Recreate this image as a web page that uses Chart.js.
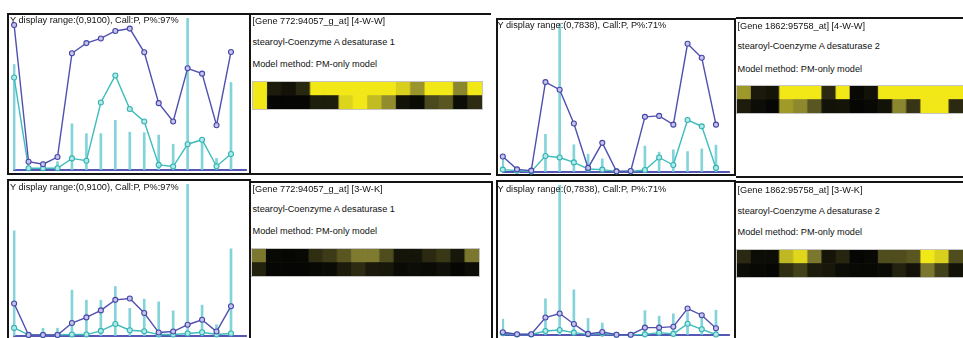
<!DOCTYPE html>
<html>
<head>
<meta charset="utf-8">
<script src="https://cdn.jsdelivr.net/npm/chart.js@4.4.0/dist/chart.umd.min.js"></script>
<style>
  body { margin: 0; background: #fff; width: 963px; height: 338px; overflow: hidden; position: relative; font-family: "Liberation Sans", Arial, sans-serif; }
  .box { position: absolute; border: 2px solid #141414; box-sizing: border-box; }
  .txt { position: absolute; font-size: 9.2px; line-height: 11px; color: #111; white-space: nowrap; z-index: 5; }
  canvas { position: absolute; }
  canvas.heat { border: 1px solid #c4c4c4; }
</style>
</head>
<body>
<script>
// ---- profile data: 16 arrays per gene ----
const scd1WW_dark = [8690, 490, 340, 770, 6990, 7600, 7880, 8330, 8470, 7050, 4000, 2900, 6090, 5770, 2680, 7070];
const scd1WW_teal = [5540, 100, 100, 100, 690, 550, 4040, 5660, 3650, 2900, 300, 200, 1540, 1810, 220, 950];
const scd1WW_bars = [6320, 0, 490, 490, 2760, 2170, 2170, 2970, 2260, 2230, 2090, 1540, 9100, 1830, 690, 5240];

const scd1WK_dark = [1945, 50, 50, 50, 770, 1110, 1530, 2160, 2240, 1370, 200, 260, 670, 970, 260, 1780];
const scd1WK_teal = [480, 60, 60, 60, 80, 80, 300, 710, 340, 280, 80, 80, 140, 220, 80, 140];
const scd1WK_bars = [6300, 0, 460, 460, 2740, 2140, 2140, 2960, 1650, 2200, 2040, 1500, 9100, 1840, 670, 5220];

const scd2WW_dark = [810, 135, 67, 4730, 4330, 2550, 210, 1530, 30, 50, 2900, 2950, 2490, 6750, 6010, 2490];
const scd2WW_teal = [120, 67, 16, 840, 760, 500, 155, 120, 30, 30, 100, 760, 360, 2730, 2400, 210];
const scd2WW_bars = [690, 0, 0, 1980, 7838, 1430, 930, 690, 0, 0, 1360, 1040, 1160, 1070, 1210, 1410];

const scd2WK_dark = [140, 36, 36, 910, 1120, 570, 52, 155, 10, 10, 380, 380, 430, 1380, 1030, 345];
const scd2WK_teal = [88, 20, 20, 206, 258, 119, 30, 67, 10, 10, 30, 119, 52, 583, 294, 20];
const scd2WK_bars = [825, 0, 0, 1890, 7838, 2360, 860, 620, 0, 0, 1270, 980, 1100, 1170, 960, 1290];

const yRange1 = 9100;
const yRange2 = 7838;

// ---- heatmap intensities (0 = black, 1 = yellow), top row / bottom row ----
const heatScd1WW_top = [1, 0.09, 0.05, 0.14, 1, 1, 1, 1, 1, 1, 0.88, 0.61, 1, 1, 0.55, 1];
const heatScd1WW_bot = [1, 0, 0, 0, 0.10, 0.10, 0.91, 1, 0.79, 0.58, 0.05, 0.02, 0.28, 0.34, 0.03, 0.16];
const heatScd2WW_top = [0.63, 0.08, 0.06, 1, 1, 1, 0.15, 1, 0.01, 0.05, 1, 1, 1, 1, 1, 1];
const heatScd2WW_bot = [0.09, 0.03, 0, 0.64, 0.56, 0.34, 0.05, 0.06, 0, 0.01, 0.05, 0.55, 0.20, 1, 1, 0.15];
const heatScd1WK_top = [0.48, 0.01, 0, 0.01, 0.17, 0.22, 0.34, 0.49, 0.49, 0.30, 0.06, 0.06, 0.15, 0.21, 0.07, 0.48];
const heatScd1WK_bot = [0.12, 0, 0, 0, 0.01, 0.02, 0.09, 0.16, 0.08, 0.07, 0.02, 0.03, 0.02, 0.04, 0, 0.03];
const heatScd2WK_top = [0.15, 0.03, 0.03, 0.78, 0.92, 0.48, 0.06, 0.13, 0, 0.01, 0.30, 0.30, 0.34, 1, 0.89, 0.30];
const heatScd2WK_bot = [0.03, 0.01, 0, 0.17, 0.25, 0.09, 0.07, 0.03, 0.01, 0.01, 0.02, 0.12, 0.05, 0.48, 0.25, 0.05];

// ---- layout ----
function addBox(l, t, w, h, extra) {
  const d = document.createElement('div');
  d.className = 'box';
  d.style.cssText = `left:${l}px;top:${t}px;width:${w}px;height:${h}px;${extra || ''}`;
  document.body.appendChild(d);
}
function addText(str, l, t) {
  const d = document.createElement('div');
  d.className = 'txt';
  d.style.left = l + 'px';
  d.style.top = t + 'px';
  d.textContent = str;
  document.body.appendChild(d);
}
function addCanvas(l, t, w, h, cls) {
  const c = document.createElement('canvas');
  c.width = w; c.height = h;
  c.style.cssText = `left:${l}px;top:${t}px;width:${w}px;height:${h}px;`;
  if (cls) c.className = cls;
  document.body.appendChild(c);
  return c;
}

addBox(7, 13, 244, 162);
addBox(251, 13, 240, 162, 'border-left:none;border-right:none;');
addBox(496, 18, 240, 158);
addBox(736, 17, 240, 161, 'border-left:none;');
addBox(7, 179, 244, 170);
addBox(251, 181, 242, 170, 'border-left:none;');
addBox(496, 180, 240, 170);
addBox(736, 181, 240, 170, 'border-left:none;');

const baseline = {
  id: 'baseline',
  beforeDatasetsDraw(chart) {
    const { ctx, chartArea } = chart;
    const y = chart.scales.y.getPixelForValue(0);
    ctx.save();
    ctx.strokeStyle = '#5656b4';
    ctx.lineWidth = 2;
    ctx.beginPath();
    ctx.moveTo(chartArea.left, y);
    ctx.lineTo(chartArea.right, y);
    ctx.stroke();
    ctx.restore();
  }
};

function profileChart(area, xmin, xmax, ymax, dark, teal, bars) {
  const pad = 4;
  const cv = addCanvas(area.l - pad, area.t - pad, area.r - area.l + 2 * pad, area.b - area.t + 2 * pad);
  const pts = arr => arr.map((v, i) => ({ x: i, y: v }));
  new Chart(cv.getContext('2d'), {
    type: 'line',
    data: {
      datasets: [
        { type: 'line', data: pts(dark), borderColor: '#5050b0', borderWidth: 1.4, tension: 0,
          pointRadius: 2.5, pointBorderWidth: 1.1, pointBorderColor: '#4646a6', pointBackgroundColor: '#c4c4ee', clip: false, order: 1 },
        { type: 'line', data: pts(teal), borderColor: '#3fbcbc', borderWidth: 1.4, tension: 0,
          pointRadius: 2.5, pointBorderWidth: 1.1, pointBorderColor: '#35b2b2', pointBackgroundColor: '#b2eaea', clip: false, order: 2 },
        { type: 'bar', data: pts(bars), backgroundColor: 'rgba(108,204,212,0.85)', barThickness: 2, order: 3 }
      ]
    },
    options: {
      responsive: false,
      animation: false,
      devicePixelRatio: 1,
      layout: { padding: pad },
      scales: {
        x: { type: 'linear', min: xmin, max: xmax, offset: false, display: false },
        y: { min: 0, max: ymax, display: false }
      },
      plugins: { legend: { display: false }, tooltip: { enabled: false } }
    },
    plugins: [baseline]
  });
}

// black -> olive -> yellow
function heatColor(t) {
  const a = [6, 6, 4], m = [128, 124, 48], b = [242, 232, 24];
  const lo = t < 0.5 ? a : m, hi = t < 0.5 ? m : b;
  const s = t < 0.5 ? t / 0.5 : (t - 0.5) / 0.5;
  const c = lo.map((v, k) => Math.round(v + (hi[k] - v) * s));
  return `rgb(${c[0]},${c[1]},${c[2]})`;
}

function heatmap(l, t, w, h, top, bot) {
  const cv = addCanvas(l, t, w, h, 'heat');
  const cols = top.map((_, i) => String(i + 1));
  new Chart(cv.getContext('2d'), {
    type: 'bar',
    data: {
      labels: cols,
      datasets: [
        { data: bot.map(() => 1), backgroundColor: bot.map(heatColor), borderWidth: 0, categoryPercentage: 1, barPercentage: 1 },
        { data: top.map(() => 1), backgroundColor: top.map(heatColor), borderWidth: 0, categoryPercentage: 1, barPercentage: 1 }
      ]
    },
    options: {
      responsive: false,
      animation: false,
      devicePixelRatio: 1,
      layout: { padding: 0 },
      scales: {
        x: { stacked: true, display: false },
        y: { stacked: true, min: 0, max: 2, display: false }
      },
      plugins: { legend: { display: false }, tooltip: { enabled: false } }
    }
  });
}

profileChart({ l: 12, r: 248, t: 17, b: 171 }, -0.07, 16.1, yRange1, scd1WW_dark, scd1WW_teal, scd1WW_bars);
profileChart({ l: 501, r: 731, t: 22, b: 173.3 }, -0.05, 15.98, yRange2, scd2WW_dark, scd2WW_teal, scd2WW_bars);
profileChart({ l: 12, r: 248, t: 183, b: 337 }, -0.07, 16.1, yRange1, scd1WK_dark, scd1WK_teal, scd1WK_bars);
profileChart({ l: 501, r: 731, t: 184, b: 336 }, -0.05, 15.98, yRange2, scd2WK_dark, scd2WK_teal, scd2WK_bars);

heatmap(252, 81, 231, 29, heatScd1WW_top, heatScd1WW_bot);
heatmap(736, 85, 228, 29, heatScd2WW_top, heatScd2WW_bot);
heatmap(251, 248, 229, 29, heatScd1WK_top, heatScd1WK_bot);
heatmap(736, 249, 228, 29, heatScd2WK_top, heatScd2WK_bot);

const title1 = 'Y display range:(0,9100), Call:P, P%:97%';
const title2 = 'Y display range:(0,7838), Call:P, P%:71%';
addText(title1, 10, 15.2);
addText(title2, 497.5, 19.5);
addText(title1, 10, 181.8);
addText(title2, 497.5, 183.8);

addText('[Gene 772:94057_g_at] [4-W-W]', 252.5, 16.2);
addText('stearoyl-Coenzyme A desaturase 1', 252.5, 36.8);
addText('Model method: PM-only model', 252.5, 58.8);

addText('[Gene 1862:95758_at] [4-W-W]', 737.5, 20.5);
addText('stearoyl-Coenzyme A desaturase 2', 737.5, 41.2);
addText('Model method: PM-only model', 737.5, 63.5);

addText('[Gene 772:94057_g_at] [3-W-K]', 252.5, 183.5);
addText('stearoyl-Coenzyme A desaturase 1', 252.5, 203.8);
addText('Model method: PM-only model', 252.5, 226.2);

addText('[Gene 1862:95758_at] [3-W-K]', 737.5, 185.2);
addText('stearoyl-Coenzyme A desaturase 2', 737.5, 206.2);
addText('Model method: PM-only model', 737.5, 227.2);
</script>
</body>
</html>
